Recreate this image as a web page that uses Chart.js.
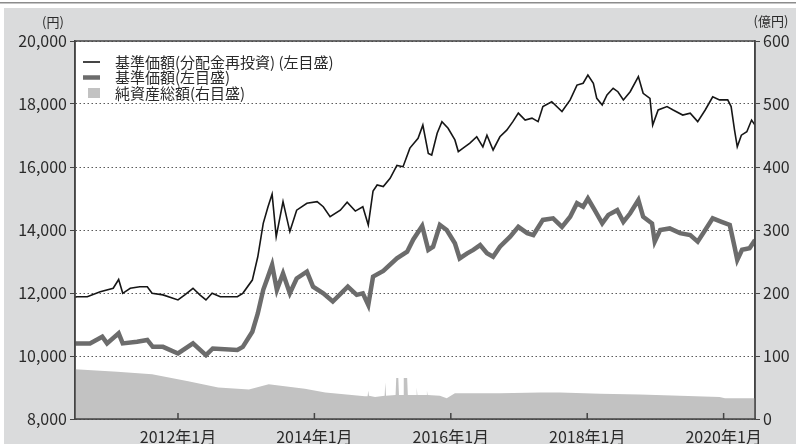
<!DOCTYPE html>
<html>
<head>
<meta charset="utf-8">
<script src="https://cdn.jsdelivr.net/npm/chart.js@4.4.1/dist/chart.umd.min.js"></script>
<style>
html, body { margin: 0; padding: 0; background: #dadbdc; }
canvas { display: block; }
</style>
</head>
<body>
<canvas id="chart" width="796" height="444"></canvas>
<script>
// 基準価額（分配金再投資） - x は年（小数）
const reinvestDates = [2010.49, 2010.52, 2010.67, 2010.86, 2011.05, 2011.13, 2011.19, 2011.30, 2011.44, 2011.55,
  2011.62, 2011.78, 2012.00, 2012.10, 2012.22, 2012.32, 2012.41, 2012.50, 2012.62, 2012.87,
  2012.95, 2013.09, 2013.17, 2013.25, 2013.32, 2013.38, 2013.44, 2013.54, 2013.64, 2013.74,
  2013.89, 2014.04, 2014.13, 2014.23, 2014.38, 2014.48, 2014.60, 2014.71, 2014.79, 2014.86,
  2014.92, 2015.01, 2015.11, 2015.21, 2015.30, 2015.40, 2015.52, 2015.59, 2015.67, 2015.72,
  2015.80, 2015.87, 2015.96, 2016.06, 2016.11, 2016.18, 2016.28, 2016.38, 2016.47, 2016.53,
  2016.62, 2016.72, 2016.82, 2016.91, 2016.99, 2017.09, 2017.19, 2017.28, 2017.35, 2017.48,
  2017.63, 2017.75, 2017.85, 2017.94, 2018.01, 2018.09, 2018.14, 2018.22, 2018.29, 2018.38,
  2018.45, 2018.53, 2018.63, 2018.75, 2018.82, 2018.92, 2018.96, 2019.04, 2019.17, 2019.26,
  2019.40, 2019.51, 2019.62, 2019.73, 2019.84, 2019.94, 2020.06, 2020.11, 2020.16, 2020.20,
  2020.26, 2020.34, 2020.41, 2020.46];
const reinvestValues = [11870, 11880, 11880, 12040, 12150, 12430, 11990, 12150, 12200, 12200,
  11990, 11940, 11780, 11940, 12150, 11940, 11780, 11990, 11880, 11880,
  11990, 12410, 13150, 14210, 14740, 15140, 13790, 14900, 13950, 14630,
  14850, 14900, 14740, 14420, 14630, 14880, 14600, 14740, 14160, 15240,
  15430, 15380, 15640, 16050, 16010, 16600, 16910, 17330, 16430, 16380,
  17070, 17440, 17230, 16860, 16490, 16600, 16760, 16960, 16640, 17010,
  16540, 16960, 17170, 17440, 17710, 17490, 17550, 17440, 17920, 18070,
  17760, 18130, 18600, 18660, 18920, 18660, 18180, 17970, 18290, 18500,
  18390, 18130, 18390, 18870, 18340, 18180, 17330, 17810, 17920, 17810,
  17650, 17710, 17440, 17810, 18230, 18130, 18130, 17920, 17170, 16640,
  17010, 17120, 17490, 17330];

// 基準価額
const priceDates = [2010.49, 2010.71, 2010.89, 2010.96, 2011.13, 2011.19, 2011.40, 2011.55, 2011.63, 2011.78,
  2012.00, 2012.22, 2012.41, 2012.51, 2012.87, 2012.95, 2013.09, 2013.17, 2013.25, 2013.32,
  2013.38, 2013.45, 2013.54, 2013.64, 2013.74, 2013.89, 2013.98, 2014.13, 2014.27, 2014.49,
  2014.62, 2014.71, 2014.79, 2014.86, 2015.01, 2015.21, 2015.36, 2015.45, 2015.58, 2015.67,
  2015.74, 2015.84, 2015.94, 2016.06, 2016.13, 2016.24, 2016.33, 2016.43, 2016.53, 2016.62,
  2016.72, 2016.87, 2016.99, 2017.12, 2017.21, 2017.35, 2017.50, 2017.63, 2017.75, 2017.85,
  2017.94, 2018.01, 2018.11, 2018.22, 2018.31, 2018.44, 2018.53, 2018.63, 2018.75, 2018.82,
  2018.95, 2018.99, 2019.07, 2019.21, 2019.36, 2019.51, 2019.62, 2019.73, 2019.84, 2019.97,
  2020.09, 2020.16, 2020.20, 2020.27, 2020.38, 2020.46];
const priceValues = [10400, 10400, 10610, 10400, 10720, 10400, 10450, 10510, 10290, 10290,
  10080, 10400, 10030, 10240, 10190, 10290, 10770, 11350, 12100, 12520,
  12890, 12100, 12620, 11990, 12460, 12680, 12200, 11990, 11730, 12200,
  11940, 11990, 11620, 12520, 12700, 13100, 13310, 13700, 14130, 13370,
  13470, 14160, 14000, 13580, 13100, 13260, 13370, 13520, 13260, 13150,
  13470, 13790, 14100, 13900, 13840, 14320, 14370, 14100, 14420, 14850,
  14740, 15000, 14630, 14210, 14480, 14630, 14260, 14530, 14950, 14420,
  14210, 13630, 14000, 14050, 13900, 13840, 13630, 14000, 14370, 14260,
  14160, 13470, 13050, 13370, 13420, 13680];

// 純資産総額（億円）
const assetDates = [2010.49, 2011.11, 2011.62, 2012.15, 2012.59, 2013.04, 2013.33, 2013.86, 2014.16, 2014.74,
  2014.78, 2014.79, 2014.80, 2014.89, 2015.03, 2015.04, 2015.05, 2015.19, 2015.20, 2015.23,
  2015.24, 2015.30, 2015.31, 2015.36, 2015.37, 2015.49, 2015.50, 2015.51, 2015.64, 2015.65,
  2015.66, 2015.84, 2015.94, 2016.06, 2016.72, 2017.31, 2017.60, 2018.19, 2018.77, 2019.36,
  2019.94, 2020.02, 2020.46];
const assetValues = [79, 75, 71, 60, 50, 47, 55, 48, 42, 36,
  36, 45, 37, 35, 37, 58, 37, 38, 65, 65,
  38, 38, 65, 65, 38, 38, 50, 38, 38, 45,
  38, 37, 33, 41, 41, 42, 42, 40, 39, 37,
  35, 33, 33];

const yearTicks = [2012, 2014, 2016, 2018, 2020];
const legendLabels = ['基準価額(分配金再投資) (左目盛)', '基準価額(左目盛)', '純資産総額(右目盛)'];

const font = "'Noto Sans CJK JP', 'Noto Sans', sans-serif";
const ink = '#2a2a2a';

function toPoints(xs, ys) {
  return xs.map((x, i) => ({ x: x, y: ys[i] }));
}

// 背景・枠・内向き目盛・単位・凡例
const frame = {
  id: 'frame',
  beforeDraw(chart) {
    const ctx = chart.ctx, a = chart.chartArea;
    ctx.save();
    ctx.fillStyle = '#dadbdc';
    ctx.fillRect(0, 0, chart.width, chart.height);
    ctx.fillStyle = '#fff';
    ctx.fillRect(0, 0, chart.width, 8);
    ctx.fillRect(0, 0, 4, chart.height);
    ctx.fillStyle = '#8c8c8c';
    ctx.fillRect(0, 2, chart.width, 1.5);
    ctx.fillStyle = '#fff';
    ctx.fillRect(a.left, a.top, a.right - a.left, a.bottom - a.top);
    ctx.restore();
  },
  afterDraw(chart) {
    const ctx = chart.ctx, a = chart.chartArea;
    const ds = chart.data.datasets;
    ctx.save();
    ctx.strokeStyle = '#444';
    ctx.lineWidth = 1.5;
    ctx.strokeRect(a.left, a.top, a.right - a.left, a.bottom - a.top);
    ctx.beginPath();
    yearTicks.forEach(v => {
      const x = chart.scales.x.getPixelForValue(v);
      ctx.moveTo(x, a.bottom);
      ctx.lineTo(x, a.bottom - 6);
    });
    ctx.stroke();

    ctx.fillStyle = ink;
    ctx.font = '13px ' + font;
    ctx.textAlign = 'center';
    ctx.textBaseline = 'middle';
    ctx.fillText('(円)', 53, 22);
    ctx.fillText('(億円)', 771, 21);

    // 凡例
    const rows = [a.top + 21, a.top + 36.5, a.top + 52];
    ctx.textAlign = 'left';
    ctx.font = '15px ' + font;
    rows.forEach((y, i) => {
      if (i < 2) {
        ctx.strokeStyle = ds[i].borderColor;
        ctx.lineWidth = ds[i].borderWidth;
        ctx.beginPath();
        ctx.moveTo(a.left + 8, y);
        ctx.lineTo(a.left + 25, y);
        ctx.stroke();
      } else {
        ctx.fillStyle = ds[i].backgroundColor;
        ctx.fillRect(a.left + 13, y - 5, 12, 10);
      }
      ctx.fillStyle = ink;
      ctx.fillText(legendLabels[i], a.left + 40, y);
    });
    ctx.restore();
  }
};

new Chart(document.getElementById('chart'), {
  type: 'line',
  data: {
    datasets: [
      {
        label: legendLabels[0],
        data: toPoints(reinvestDates, reinvestValues),
        yAxisID: 'y',
        borderColor: '#161616',
        borderWidth: 1.6,
        pointRadius: 0,
        fill: false
      },
      {
        label: legendLabels[1],
        data: toPoints(priceDates, priceValues),
        yAxisID: 'y',
        borderColor: '#6c6c6c',
        borderWidth: 4.5,
        pointRadius: 0,
        fill: false
      },
      {
        label: legendLabels[2],
        data: toPoints(assetDates, assetValues),
        yAxisID: 'y1',
        borderWidth: 0,
        borderColor: '#c2c2c2',
        backgroundColor: '#c2c2c2',
        pointRadius: 0,
        fill: 'origin'
      }
    ]
  },
  options: {
    responsive: false,
    animation: false,
    layout: { padding: { top: 41, left: 0, right: 0, bottom: 0 } },
    plugins: {
      legend: { display: false },
      tooltip: { enabled: false }
    },
    scales: {
      x: {
        type: 'linear',
        min: 2010.49,
        max: 2020.46,
        afterBuildTicks: s => { s.ticks = yearTicks.map(v => ({ value: v })); },
        afterFit: s => { s.height = 25; },
        grid: { display: false, drawTicks: false },
        border: { color: '#444', width: 1.5 },
        ticks: {
          callback: v => v + '年1月',
          font: { family: font, size: 16 },
          color: ink,
          padding: 8,
          maxRotation: 0,
          autoSkip: false
        }
      },
      y: {
        position: 'left',
        min: 8000,
        max: 20000,
        afterFit: s => { s.width = 75; },
        grid: { color: '#5a5a5a', lineWidth: 1, tickColor: '#444', tickLength: 5, tickBorderDash: [] },
        border: { color: '#444', width: 1.5, dash: [1.5, 2.5] },
        ticks: {
          stepSize: 2000,
          padding: 3,
          callback: v => v.toLocaleString('en-US'),
          font: { family: font, size: 16 },
          color: ink
        }
      },
      y1: {
        position: 'right',
        min: 0,
        max: 600,
        afterFit: s => { s.width = 41; },
        grid: { drawOnChartArea: false, tickColor: '#444', tickLength: 5 },
        border: { color: '#444', width: 1.5 },
        ticks: {
          stepSize: 100,
          padding: 3,
          font: { family: font, size: 16 },
          color: ink
        }
      }
    }
  },
  plugins: [frame]
});
</script>
</body>
</html>
